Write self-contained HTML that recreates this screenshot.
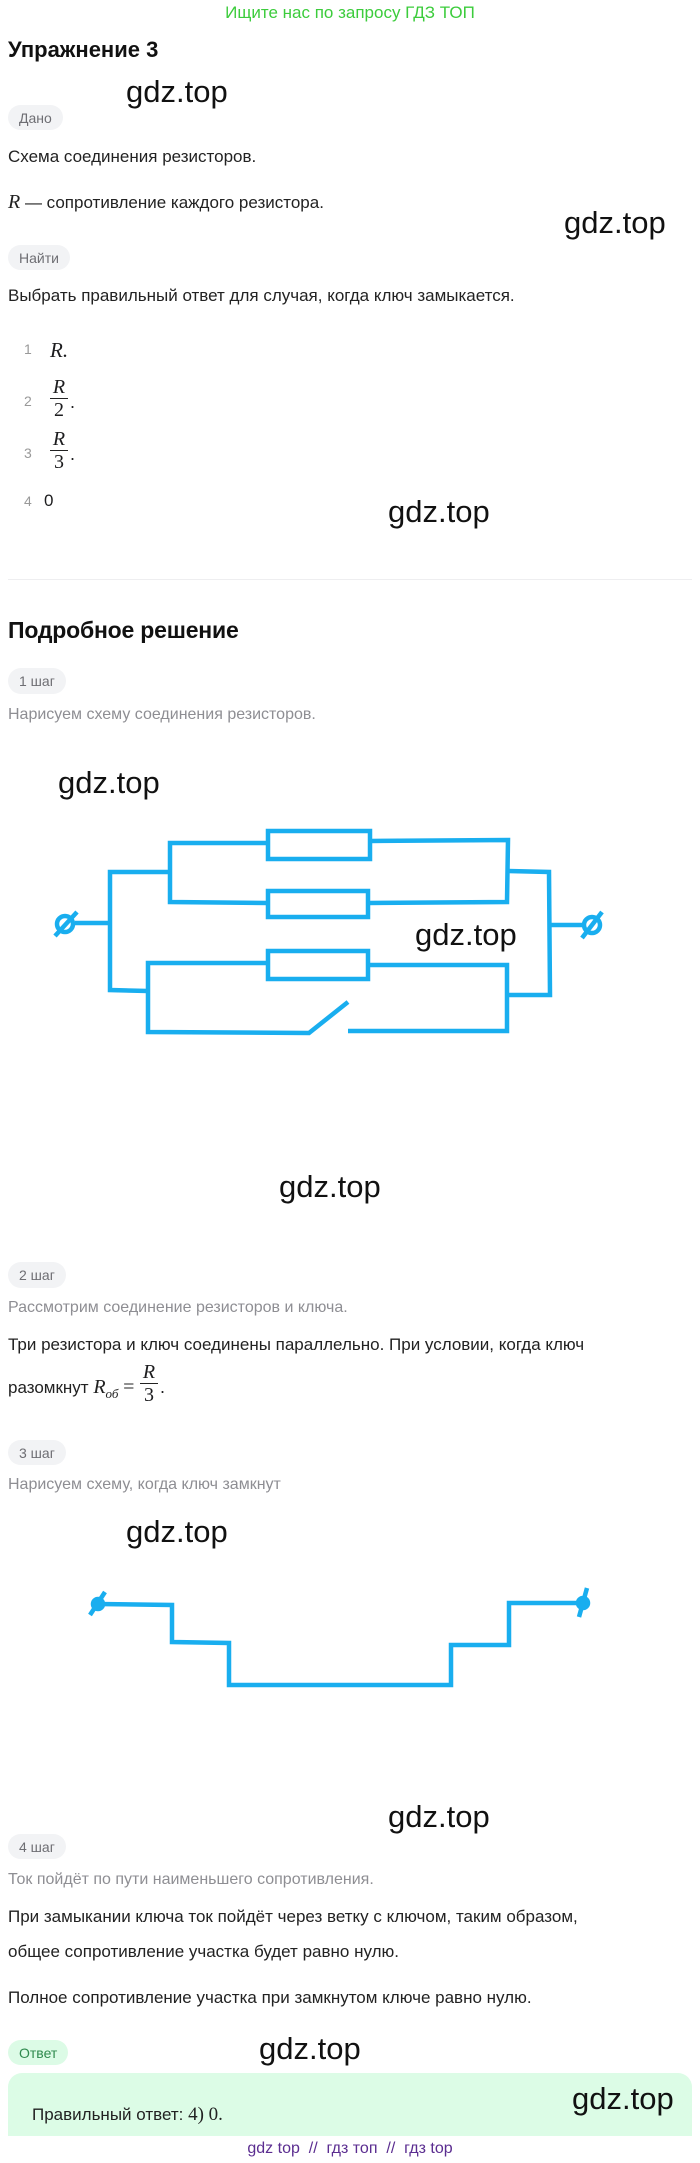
<!DOCTYPE html>
<html><head><meta charset="utf-8"><style>
*{margin:0;padding:0;box-sizing:border-box}
body{width:700px;height:2163px;position:relative;background:#fff;font-family:"Liberation Sans",sans-serif;color:#1d1d1f;overflow:hidden}
.a{position:absolute;white-space:nowrap}
.t{font-size:17px;line-height:20px;left:8px;color:#222}
.g{font-size:16px;line-height:20px;left:8px;color:#8e8e93}
.b{position:absolute;left:8px;height:26px;border-radius:13px;background:#f2f3f5;color:#6e6e73;font-size:14px;line-height:26px;padding:0 11px}
.w{font-size:31px;line-height:36px;color:#111}
.m{font-family:"Liberation Serif",serif;font-style:italic}
.fr{position:absolute;font-family:"Liberation Serif",serif;font-size:20px;text-align:center;width:18px}
.fr .n{font-style:italic;line-height:22px;display:block}
.fr .l{display:block;border-top:1px solid #222}
.fr .d{line-height:22px;display:block}
</style></head><body>
<div class="a" style="left:0;width:700px;text-align:center;top:3px;font-size:17px;line-height:20px;color:#3ccc3c">Ищите нас по запросу ГДЗ ТОП</div>
<div class="a" style="left:8px;top:37px;font-size:22px;font-weight:bold;line-height:26px;color:#111">Упражнение 3</div>
<div class="a w" style="left:126px;top:74px">gdz.top</div>
<div class="b" style="top:105px;height:25px">Дано</div>
<div class="a t" style="top:147px">Схема соединения резисторов.</div>
<div class="a t" style="top:192px"><span class="m" style="font-size:20px">R</span> — сопротивление каждого резистора.</div>
<div class="a w" style="left:564px;top:205px">gdz.top</div>
<div class="b" style="top:245px;height:25px">Найти</div>
<div class="a t" style="top:286px">Выбрать правильный ответ для случая, когда ключ замыкается.</div>
<div class="a" style="left:24px;top:341px;font-size:14px;color:#999">1</div>
<div class="a m" style="left:50px;top:338px;font-size:21px">R.</div>
<div class="a" style="left:24px;top:393px;font-size:14px;color:#999">2</div>
<div class="fr" style="left:50px;top:376px"><span class="n">R</span><span class="l"></span><span class="d">2</span></div>
<div class="a" style="left:70px;top:392px;font-size:18px">.</div>
<div class="a" style="left:24px;top:445px;font-size:14px;color:#999">3</div>
<div class="fr" style="left:50px;top:428px"><span class="n">R</span><span class="l"></span><span class="d">3</span></div>
<div class="a" style="left:70px;top:444px;font-size:18px">.</div>
<div class="a" style="left:24px;top:493px;font-size:14px;color:#999">4</div>
<div class="a" style="left:44px;top:491px;font-size:17px">0</div>
<div class="a w" style="left:388px;top:494px">gdz.top</div>
<div class="a" style="left:8px;top:579px;width:684px;border-top:1px solid #eeeef0"></div>
<div class="a" style="left:8px;top:616px;font-size:23px;font-weight:bold;line-height:28px;color:#111;letter-spacing:-0.2px">Подробное решение</div>
<div class="b" style="top:668px">1 шаг</div>
<div class="a g" style="top:705px">Нарисуем схему соединения резисторов.</div>
<div class="a w" style="left:58px;top:765px">gdz.top</div>
<svg class="a" style="left:0;top:0" width="700" height="2163" fill="none" stroke="#19aeef" stroke-width="4.5" stroke-linejoin="miter">
<rect x="268" y="831" width="102" height="28"/>
<rect x="268" y="891" width="100" height="26"/>
<rect x="268" y="951" width="100" height="28"/>
<polyline points="268,843 170,843 170,902 268,903"/>
<polyline points="370,841 508,840 507,902 368,903"/>
<polyline points="170,872 110,872 110,990 148,991"/>
<polyline points="508,871 549,872 550,995 507,995"/>
<polyline points="268,963 148,963 148,1032 309,1033 348,1002"/>
<polyline points="368,965 507,965 507,1031 348,1031"/>
<line x1="75" y1="923" x2="110" y2="923"/>
<circle cx="65" cy="924" r="8"/>
<line x1="55" y1="936" x2="77" y2="912"/>
<line x1="549" y1="925" x2="582" y2="925"/>
<circle cx="592" cy="925" r="8"/>
<line x1="582" y1="938" x2="602" y2="912"/>
<polyline points="98,1604 172,1605 172,1642 229,1643 229,1685 451,1685 451,1645 509,1645 509,1603 583,1603"/>
<circle cx="98" cy="1604" r="5" fill="#19aeef"/>
<line x1="90" y1="1615" x2="105" y2="1592"/>
<circle cx="583" cy="1603" r="5" fill="#19aeef"/>
<line x1="579" y1="1617" x2="587" y2="1588"/>
</svg>
<div class="a w" style="left:415px;top:917px">gdz.top</div>
<div class="a w" style="left:279px;top:1169px">gdz.top</div>
<div class="b" style="top:1262px">2 шаг</div>
<div class="a g" style="top:1298px">Рассмотрим соединение резисторов и ключа.</div>
<div class="a t" style="top:1335px">Три резистора и ключ соединены параллельно. При условии, когда ключ</div>
<div class="a t" style="top:1377px">разомкнут <span class="m" style="font-size:20px">R<sub style="font-size:13px">об</sub></span> <span style="font-family:'Liberation Serif',serif;font-size:20px">=</span></div>
<div class="fr" style="left:140px;top:1361px"><span class="n">R</span><span class="l"></span><span class="d">3</span></div>
<div class="a" style="left:160px;top:1377px;font-size:18px">.</div>
<div class="b" style="top:1440px;height:25px">3 шаг</div>
<div class="a g" style="top:1475px">Нарисуем схему, когда ключ замкнут</div>
<div class="a w" style="left:126px;top:1514px">gdz.top</div>
<div class="a w" style="left:388px;top:1799px">gdz.top</div>
<div class="b" style="top:1834px;height:25px">4 шаг</div>
<div class="a g" style="top:1870px">Ток пойдёт по пути наименьшего сопротивления.</div>
<div class="a t" style="top:1907px">При замыкании ключа ток пойдёт через ветку с ключом, таким образом,</div>
<div class="a t" style="top:1942px">общее сопротивление участка будет равно нулю.</div>
<div class="a t" style="top:1988px">Полное сопротивление участка при замкнутом ключе равно нулю.</div>
<div class="b" style="top:2040px;height:25px;background:#dcfbe6;color:#2f8a4e">Ответ</div>
<div class="a w" style="left:259px;top:2031px">gdz.top</div>
<div class="a" style="left:8px;top:2073px;width:684px;height:63px;background:#dcfce6;border-radius:14px 14px 0 0"></div>
<div class="a t" style="left:32px;top:2105px">Правильный ответ: <span style="font-family:'Liberation Serif',serif;font-size:19px">4) 0.</span></div>
<div class="a w" style="left:572px;top:2081px">gdz.top</div>
<div class="a" style="left:0;width:700px;text-align:center;top:2139px;font-size:16px;line-height:20px;color:#5b2d90">gdz top &nbsp;// &nbsp;гдз топ &nbsp;// &nbsp;гдз top</div>
</body></html>
